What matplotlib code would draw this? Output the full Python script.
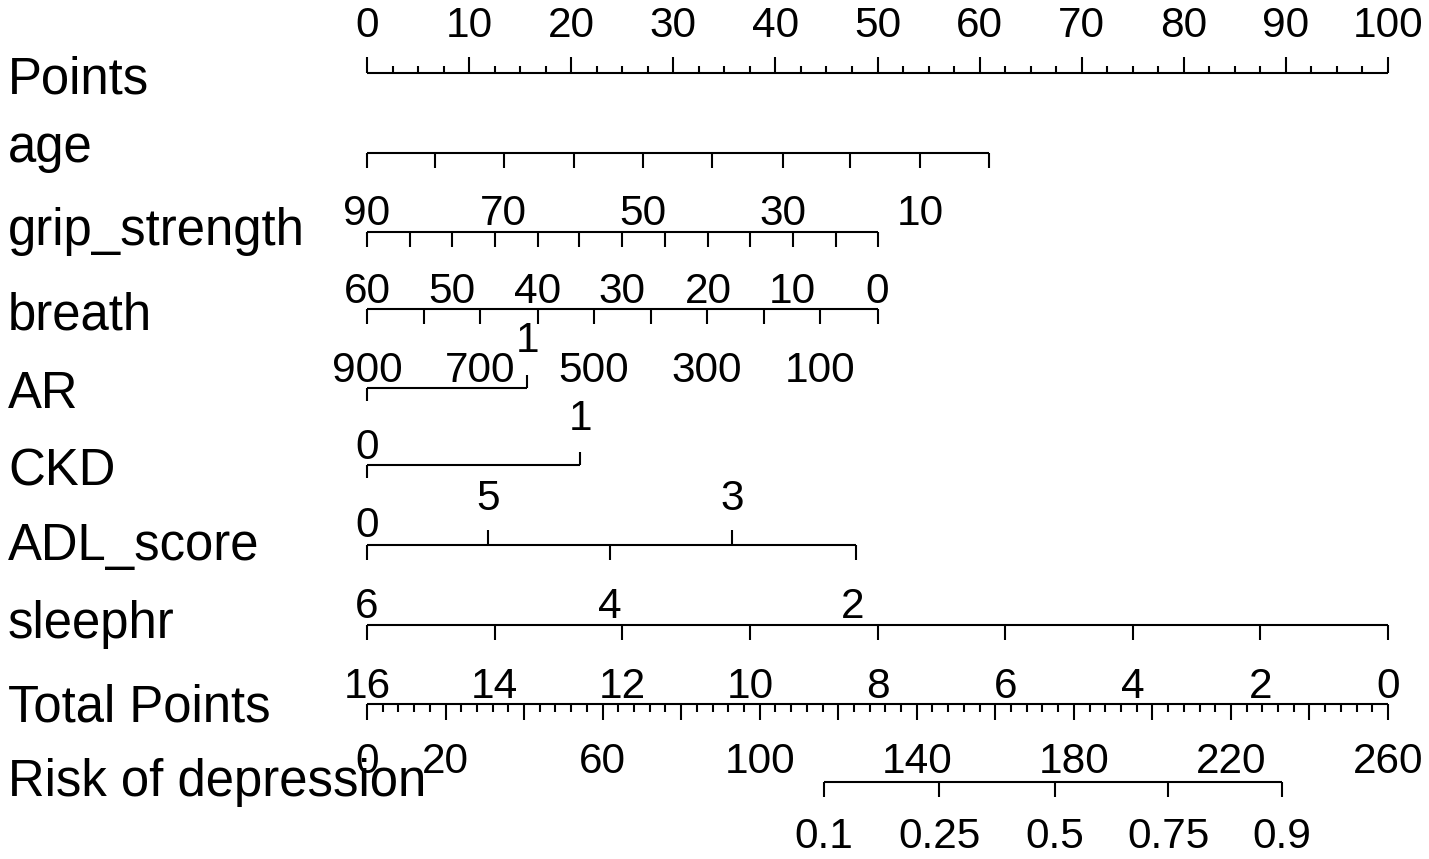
import matplotlib
matplotlib.use("Agg")
import matplotlib.pyplot as plt
from matplotlib.transforms import blended_transform_factory

plt.rcParams.update({"font.family": ["Liberation Sans", "DejaVu Sans"]})

# ---- nomogram values (positions in "Points" units, 0..100)
points_major = [0, 10, 20, 30, 40, 50, 60, 70, 80, 90, 100]
points_minor = [p + d for p in points_major[:-1] for d in (2.5, 5, 7.5)]

age_vals = [90, 80, 70, 60, 50, 40, 30, 20, 10, 0]
age_pts = [0, 6.7, 13.4, 20.3, 27.0, 33.8, 40.7, 47.3, 54.2, 60.9]

grip_vals = [60, 55, 50, 45, 40, 35, 30, 25, 20, 15, 10, 5, 0]
grip_pts = [0, 4.2, 8.3, 12.5, 16.7, 20.8, 25.0, 29.2, 33.4, 37.5, 41.7, 45.9, 50.0]

breath_vals = [900, 800, 700, 600, 500, 400, 300, 200, 100, 0]
breath_pts = [0, 5.6, 11.1, 16.7, 22.2, 27.8, 33.3, 38.9, 44.4, 50.0]

ar_vals = [0, 1]
ar_pts = [0, 15.7]

ckd_vals = [0, 1]
ckd_pts = [0, 20.9]

adl_vals = [6, 5, 4, 3, 2]
adl_pts = [0, 11.85, 23.8, 35.75, 47.9]

sleep_vals = [16, 14, 12, 10, 8, 6, 4, 2, 0]
sleep_pts = [0, 12.5, 25, 37.5, 50, 62.5, 75, 87.5, 100]

total_major = list(range(0, 261, 20))
total_minor = [t for t in range(0, 261, 4) if t % 20]
total_labels = [0, 20, 60, 100, 140, 180, 220, 260]

risk_vals = ["0.1", "0.25", "0.5", "0.75", "0.9"]
risk_total = [116.4, 145.7, 175.2, 204.0, 233.0]

row_names = ["Points", "age", "grip_strength", "breath", "AR", "CKD",
             "ADL_score", "sleephr", "Total Points", "Risk of depression"]
name_base = [93, 162, 245, 330, 408, 485, 560, 638, 721, 796]

W, H = 1429, 859
X0, PX = 367, 10.21          # pixel of 0 points, pixels per point
LW = 1.5
FS_NAME, FS_TICK = 36.6, 30.5

fig = plt.figure(figsize=(W / 100, H / 100), dpi=100)
ax = fig.add_axes([0, 0, 1, 1])
ax.set_xlim(-X0 / PX, (W - X0) / PX)
ax.set_ylim(H, 0)
ax.axis("off")
tr = blended_transform_factory(ax.transAxes, ax.transData)


def tp(t):
    # total points -> points scale
    return t * 100 / 260


def axis_line(y, pts, dirs, length=15):
    ax.hlines(y, min(pts), max(pts), color="black", lw=LW)
    for p, d in zip(pts, dirs):
        ax.vlines(p, y, y + d * length, color="black", lw=LW)


def labels(y, pts, texts):
    for p, t in zip(pts, texts):
        ax.text(p, y, str(t), ha="center", va="baseline", fontsize=FS_TICK)


for name, yb in zip(row_names, name_base):
    ax.text(8 / W, yb, name, transform=tr, ha="left", va="baseline",
            fontsize=FS_NAME)

# Points
axis_line(73, points_major, [-1] * len(points_major), 16)
ax.vlines(points_minor, 73, 66, color="black", lw=LW)
labels(37, points_major, points_major)

# age
axis_line(153, age_pts, [1] * len(age_pts))
labels(225, age_pts[::2], age_vals[::2])

# grip_strength
axis_line(232, grip_pts, [1] * len(grip_pts))
labels(303, grip_pts[::2], grip_vals[::2])

# breath
axis_line(309, breath_pts, [1] * len(breath_pts))
labels(382, breath_pts[::2], breath_vals[::2])

# AR
axis_line(388, ar_pts, [1, -1], 13)
labels(352, ar_pts[1:], ar_vals[1:])

# CKD
axis_line(465, ckd_pts, [1, -1], 13)
labels(459, ckd_pts[:1], ckd_vals[:1])
labels(430, ckd_pts[1:], ckd_vals[1:])

# ADL_score
axis_line(545, adl_pts, [1, -1, 1, -1, 1])
labels(537, adl_pts[:1], [0])
labels(510, adl_pts[1::2], adl_vals[1::2])
labels(618, [0, 23.8, 47.6], adl_vals[::2])

# sleephr
axis_line(625, sleep_pts, [1] * len(sleep_pts))
labels(698, sleep_pts, sleep_vals)

# Total Points
tmaj = [tp(t) for t in total_major]
axis_line(704, tmaj, [1] * len(tmaj), 16)
ax.vlines([tp(t) for t in total_minor], 704, 712, color="black", lw=LW)
labels(773, [tp(t) for t in total_labels], total_labels)

# Risk of depression
rpts = [tp(t) for t in risk_total]
axis_line(782, rpts, [1] * len(rpts))
labels(848, rpts, risk_vals)

fig.savefig("out.png", dpi=100)
